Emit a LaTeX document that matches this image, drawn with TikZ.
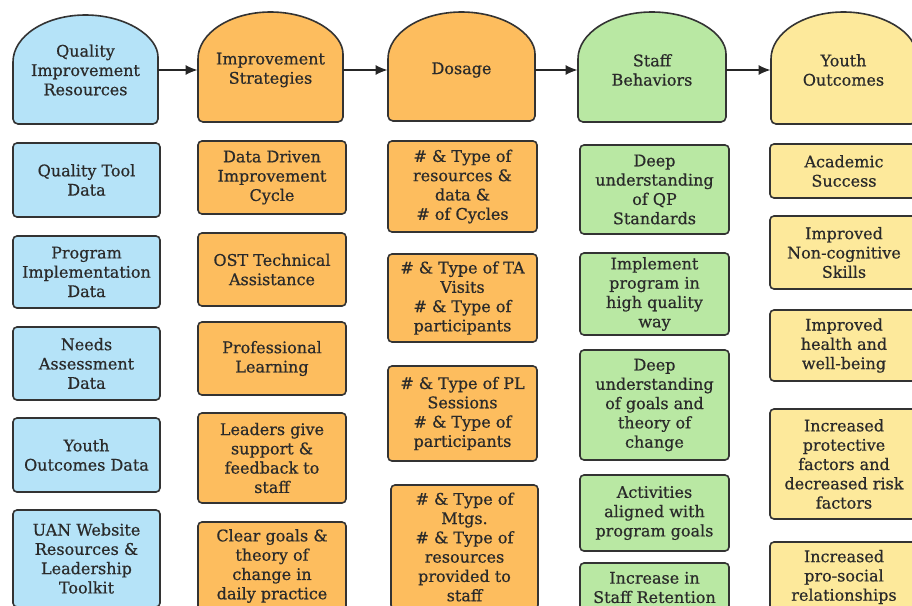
\documentclass[tikz,border=0pt]{standalone}
\usepackage{fontspec}
\setmainfont{DejaVu Serif}[FakeBold=0.6]
\usetikzlibrary{arrows.meta}
\definecolor{cblue}{HTML}{B5E3F8}
\definecolor{corange}{HTML}{FDBD5E}
\definecolor{cgreen}{HTML}{B9E8A3}
\definecolor{cyellow}{HTML}{FDE99B}
\definecolor{cline}{HTML}{333333}
\definecolor{ctext}{HTML}{2A2A2A}
\tikzset{
  boxs/.style={draw=cline, line width=0.8pt, rounded corners=2pt, inner sep=0pt,
    align=center, text=ctext, font=\fontsize{8}{9.65}\selectfont},
  hdrs/.style={draw=cline, line width=0.8pt},
  hdrtext/.style={inner sep=0pt, align=center, text=ctext, font=\fontsize{8}{9.65}\selectfont},
  arr/.style={draw=black!85, line width=0.75pt, -{Latex[length=6pt,width=5pt]}}
}
% name, x1, y1, x2, y2, fill, text
\newcommand\bx[7]{\node[boxs, fill=#6, minimum width={(#4-#2)*0.5pt}, minimum height={(#5-#3)*0.5pt}] (#1) at ({(#2+#4)/2},{(#3+#5)/2}) {#7};}
% name, x1, x2, ytop, ybot, fill, text
\newcommand\dome[7]{%
  \draw[hdrs, fill=#6] ({#2},{#4+47}) [rounded corners=2.5pt] -- ({#2},{#5}) -- ({#3},{#5}) -- ({#3},{#4+47}) [sharp corners]
    .. controls ({#3},{#4+21}) and ({(#2+#3)/2+0.552*(#3-#2)/2},{#4}) .. ({(#2+#3)/2},{#4})
    .. controls ({(#2+#3)/2-0.552*(#3-#2)/2},{#4}) and ({#2},{#4+21}) .. ({#2},{#4+47}) -- cycle;
  \node[hdrtext, minimum width={(#3-#2)*0.5pt}, minimum height=50pt] (#1) at ({(#2+#3)/2},70) {#7};}
\begin{document}
\begin{tikzpicture}[x=0.5pt, y=-0.5pt]
\useasboundingbox (0,0) rectangle (912,606);
\clip (0,0) rectangle (912,606);
\fill[white] (0,0) rectangle (912,606);
% headers
\dome{d1}{13}{158}{15}{124}{cblue}{Quality\\Improvement\\Resources}
\dome{d2}{198}{343}{12}{122}{corange}{Improvement\\Strategies}
\dome{d3}{388}{535}{12}{121}{corange}{Dosage}
\dome{d4}{578}{726}{12}{122}{cgreen}{Staff\\Behaviors}
\dome{d5}{771}{916}{12}{124}{cyellow}{Youth\\Outcomes}
\draw[arr] (d1.east) -- (d2.west);
\draw[arr] (d2.east) -- (d3.west);
\draw[arr] (d3.east) -- (d4.west);
\draw[arr] (d4.east) -- (d5.west);
% column 1
\bx{b11}{13}{143}{160}{217}{cblue}{Quality Tool\\Data}
\bx{b12}{13}{236}{160}{308}{cblue}{Program\\Implementation\\Data}
\bx{b13}{13}{327}{160}{400}{cblue}{Needs\\Assessment\\Data}
\bx{b14}{13}{418}{160}{492}{cblue}{Youth\\Outcomes Data}
\bx{b15}{13}{510}{160}{607}{cblue}{UAN Website\\Resources \&\\Leadership\\Toolkit}
% column 2
\bx{b21}{198}{141}{346}{214}{corange}{Data Driven\\Improvement\\Cycle}
\bx{b22}{198}{233}{346}{306}{corange}{OST Technical\\Assistance}
\bx{b23}{198}{322}{346}{395}{corange}{Professional\\Learning}
\bx{b24}{198}{413}{346}{503}{corange}{Leaders give\\support \&\\feedback to\\staff}
\bx{b25}{198}{522}{346}{610}{corange}{Clear goals \&\\theory of\\change in\\daily practice}
% column 3
\bx{b31}{388}{141}{537}{232}{corange}{\# \& Type of\\resources \&\\data \&\\\# of Cycles}
\bx{b32}{388}{254}{537}{342}{corange}{\# \& Type of TA\\Visits\\\# \& Type of\\participants}
\bx{b33}{388}{366}{537}{461}{corange}{\# \& Type of PL\\Sessions\\\# \& Type of\\participants}
\bx{b34}{391}{485}{538}{609}{corange}{\# \& Type of\\Mtgs.\\\# \& Type of\\resources\\provided to\\staff}
% column 4
\bx{b41}{580}{145}{729}{234}{cgreen}{Deep\\understanding\\of QP\\Standards}
\bx{b42}{580}{253}{729}{335}{cgreen}{Implement\\program in\\high quality\\way}
\bx{b43}{580}{350}{729}{460}{cgreen}{Deep\\understanding\\of goals and\\theory of\\change}
\bx{b44}{580}{475}{729}{551}{cgreen}{Activities\\aligned with\\program goals}
\bx{b45}{580}{563}{729}{612}{cgreen}{Increase in\\Staff Retention}
% column 5
\bx{b51}{770}{144}{918}{198}{cyellow}{Academic\\Success}
\bx{b52}{770}{216}{918}{289}{cyellow}{Improved\\Non-cognitive\\Skills}
\bx{b53}{770}{310}{918}{381}{cyellow}{Improved\\health and\\well-being}
\bx{b54}{770}{409}{918}{519}{cyellow}{Increased\\protective\\factors and\\decreased risk\\factors}
\bx{b55}{770}{542}{918}{612}{cyellow}{Increased\\pro-social\\relationships}
\end{tikzpicture}
\end{document}
